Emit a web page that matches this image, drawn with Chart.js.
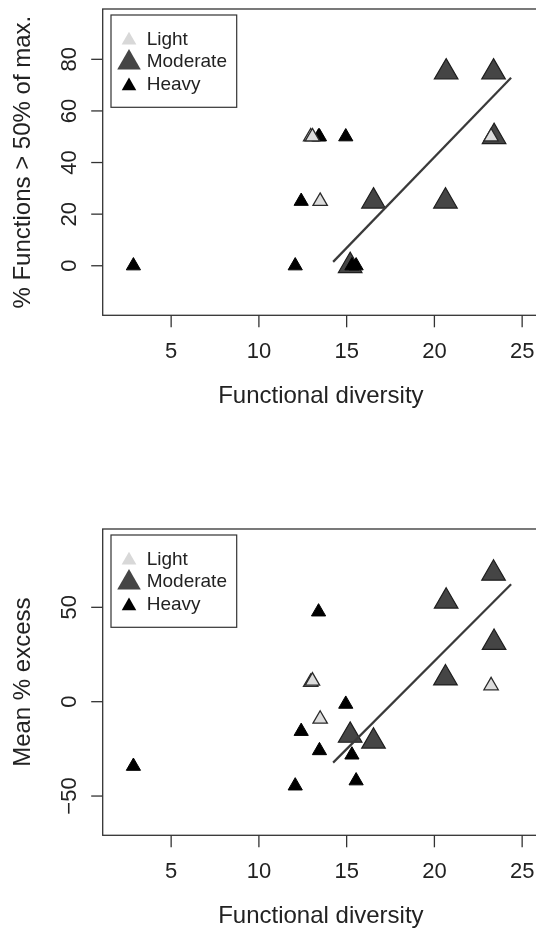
<!DOCTYPE html>
<html>
<head>
<meta charset="utf-8">
<script src="https://cdn.jsdelivr.net/npm/chart.js@4.4.1/dist/chart.umd.min.js"></script>
<style>
html, body { margin: 0; padding: 0; background: #fff; overflow: hidden; }
#wrap { position: relative; width: 536px; height: 929px; overflow: hidden; }
canvas { position: absolute; left: 0; }
#topChart { top: 0; }
#bottomChart { top: 465px; }
</style>
</head>
<body>
<div id="wrap">
  <canvas id="topChart" width="540" height="465"></canvas>
  <canvas id="bottomChart" width="540" height="464"></canvas>
</div>
<script>
// Grupos (intensidade)
const groups = ['Light', 'Moderate', 'Heavy'];

// Functional diversity de cada local, por grupo
const lightX = [12.95, 13.05, 13.49, 23.23];
const moderateX = [20.67, 23.37, 23.4, 16.53, 20.63, 15.2];
const heavyX = [13.4, 13.45, 14.95, 12.41, 12.07, 15.3, 15.54, 2.85];

// Painel de cima: % Functions > 50% of max.
const lightTop = [50, 50, 25, 50];
const moderateTop = [75, 75, 50, 25, 25, 0];
const heavyTop = [50, 50, 50, 25, 0, 0, 0, 0];

// Painel de baixo: Mean % excess
const lightBottom = [10.3, 11, -9.2, 8.5];
const moderateBottom = [53.2, 68, 31.3, -21, 12.5, -17.9];
const heavyBottom = [47.6, -25.9, -1.3, -15.7, -44.6, -28.2, -41.9, -34.2];

// Retas de regressão (extremos)
const trendX = [14.23, 24.37];
const trendTop = [1.5, 72.9];
const trendBottom = [-32.3, 62.2];

// Ticks dos eixos
const xTicks = [5, 10, 15, 20, 25];
const yTicksTop = [0, 20, 40, 60, 80];
const yTicksBottom = [-50, 0, 50];

const FONT = '"Liberation Sans", Arial, Helvetica, sans-serif';
const ink = '#222';

const styles = {
    Light: { radius: 8.3, fill: '#dcdcdc', border: '#2b2b2b', width: 1.3, legendRadius: 8.5 },
    Moderate: { radius: 13.6, fill: '#454545', border: '#1e1e1e', width: 1.2, legendRadius: 13.6 },
    Heavy: { radius: 8.2, fill: '#000', border: '#000', width: 1, legendRadius: 8.4 }
};

const zip = (xs, ys) => xs.map((x, i) => ({ x: x, y: ys[i] }));

// Plugin que desenha a moldura, eixos no estilo R e a legenda
const frame = {
    id: 'frame',
    afterDraw(chart, args, opts) {
        const ctx = chart.ctx;
        const a = chart.chartArea;
        const xs = chart.scales.x;
        const ys = chart.scales.y;
        ctx.save();
        ctx.strokeStyle = '#333';
        ctx.lineWidth = 1.3;
        ctx.strokeRect(a.left, a.top, a.right - a.left, a.bottom - a.top);

        // eixo x
        ctx.fillStyle = ink;
        ctx.font = '22px ' + FONT;
        ctx.textAlign = 'center';
        ctx.textBaseline = 'alphabetic';
        xTicks.forEach(v => {
            const px = xs.getPixelForValue(v);
            ctx.beginPath();
            ctx.moveTo(px, a.bottom);
            ctx.lineTo(px, a.bottom + 12);
            ctx.stroke();
            ctx.fillText(String(v), px, a.bottom + 42.5);
        });
        ctx.font = '24px ' + FONT;
        ctx.fillText('Functional diversity', (a.left + a.right) / 2, a.bottom + 87.5);

        // eixo y (rótulos girados)
        opts.yTicks.forEach(v => {
            const py = ys.getPixelForValue(v);
            ctx.beginPath();
            ctx.moveTo(a.left, py);
            ctx.lineTo(a.left - 11.5, py);
            ctx.stroke();
            ctx.save();
            ctx.translate(75.5, py);
            ctx.rotate(-Math.PI / 2);
            ctx.font = '22px ' + FONT;
            ctx.fillText(v < 0 ? '\u2212' + Math.abs(v) : String(v), 0, 0);
            ctx.restore();
        });
        ctx.save();
        ctx.translate(30, (a.top + a.bottom) / 2);
        ctx.rotate(-Math.PI / 2);
        ctx.font = '24px ' + FONT;
        ctx.fillText(opts.yTitle, 0, 0);
        ctx.restore();

        // legenda
        const lx = a.left + 8.3, ly = a.top + 6;
        ctx.lineWidth = 1.2;
        ctx.strokeRect(lx, ly, 125.7, 92.3);
        const rows = [24.3, 46.7, 70];
        groups.forEach((g, i) => {
            const s = styles[g];
            ctx.fillStyle = g === 'Light' ? '#d8d8d8' : s.fill;
            Chart.helpers.drawPoint(ctx, { pointStyle: 'triangle', radius: s.legendRadius, borderWidth: 0, rotation: 0 }, lx + 18, ly + rows[i] + 1);
            ctx.fillStyle = ink;
            ctx.font = '19px ' + FONT;
            ctx.textAlign = 'left';
            ctx.textBaseline = 'middle';
            ctx.fillText(g, lx + 35.7, ly + rows[i]);
        });
        ctx.restore();
    }
};

function makePanel(id, lightY, moderateY, heavyY, trendY, yMin, yMax, yTicks, yTitle, padding) {
    const mk = (label, xs, yv, order) => ({
        label: label,
        data: zip(xs, yv),
        pointStyle: 'triangle',
        pointRadius: styles[label].radius,
        pointHoverRadius: styles[label].radius,
        backgroundColor: styles[label].fill,
        borderColor: styles[label].border,
        borderWidth: styles[label].width,
        order: order
    });
    return new Chart(document.getElementById(id), {
        type: 'scatter',
        data: {
            datasets: [
                mk('Light', lightX, lightY, 1),
                mk('Heavy', heavyX, heavyY, 2),
                mk('Moderate', moderateX, moderateY, 3),
                {
                    label: 'fit',
                    data: zip(trendX, trendY),
                    showLine: true,
                    pointRadius: 0,
                    borderColor: '#3a3a3a',
                    borderWidth: 2.2,
                    order: 0
                }
            ]
        },
        options: {
            responsive: false,
            animation: false,
            events: [],
            layout: { padding: padding, autoPadding: false },
            plugins: {
                legend: { display: false },
                tooltip: { enabled: false },
                frame: { yTicks: yTicks, yTitle: yTitle }
            },
            scales: {
                x: { type: 'linear', min: 1.1, max: 25.96, display: false },
                y: { type: 'linear', min: yMin, max: yMax, display: false }
            }
        },
        plugins: [frame]
    });
}

makePanel('topChart', lightTop, moderateTop, heavyTop, trendTop, -19.2, 99.5, yTicksTop,
    '% Functions > 50% of max.', { left: 102.7, top: 9, right: 1, bottom: 149.7 });
makePanel('bottomChart', lightBottom, moderateBottom, heavyBottom, trendBottom, -70.8, 91.5, yTicksBottom,
    'Mean % excess', { left: 102.7, top: 64, right: 1, bottom: 93.7 });
</script>
</body>
</html>
